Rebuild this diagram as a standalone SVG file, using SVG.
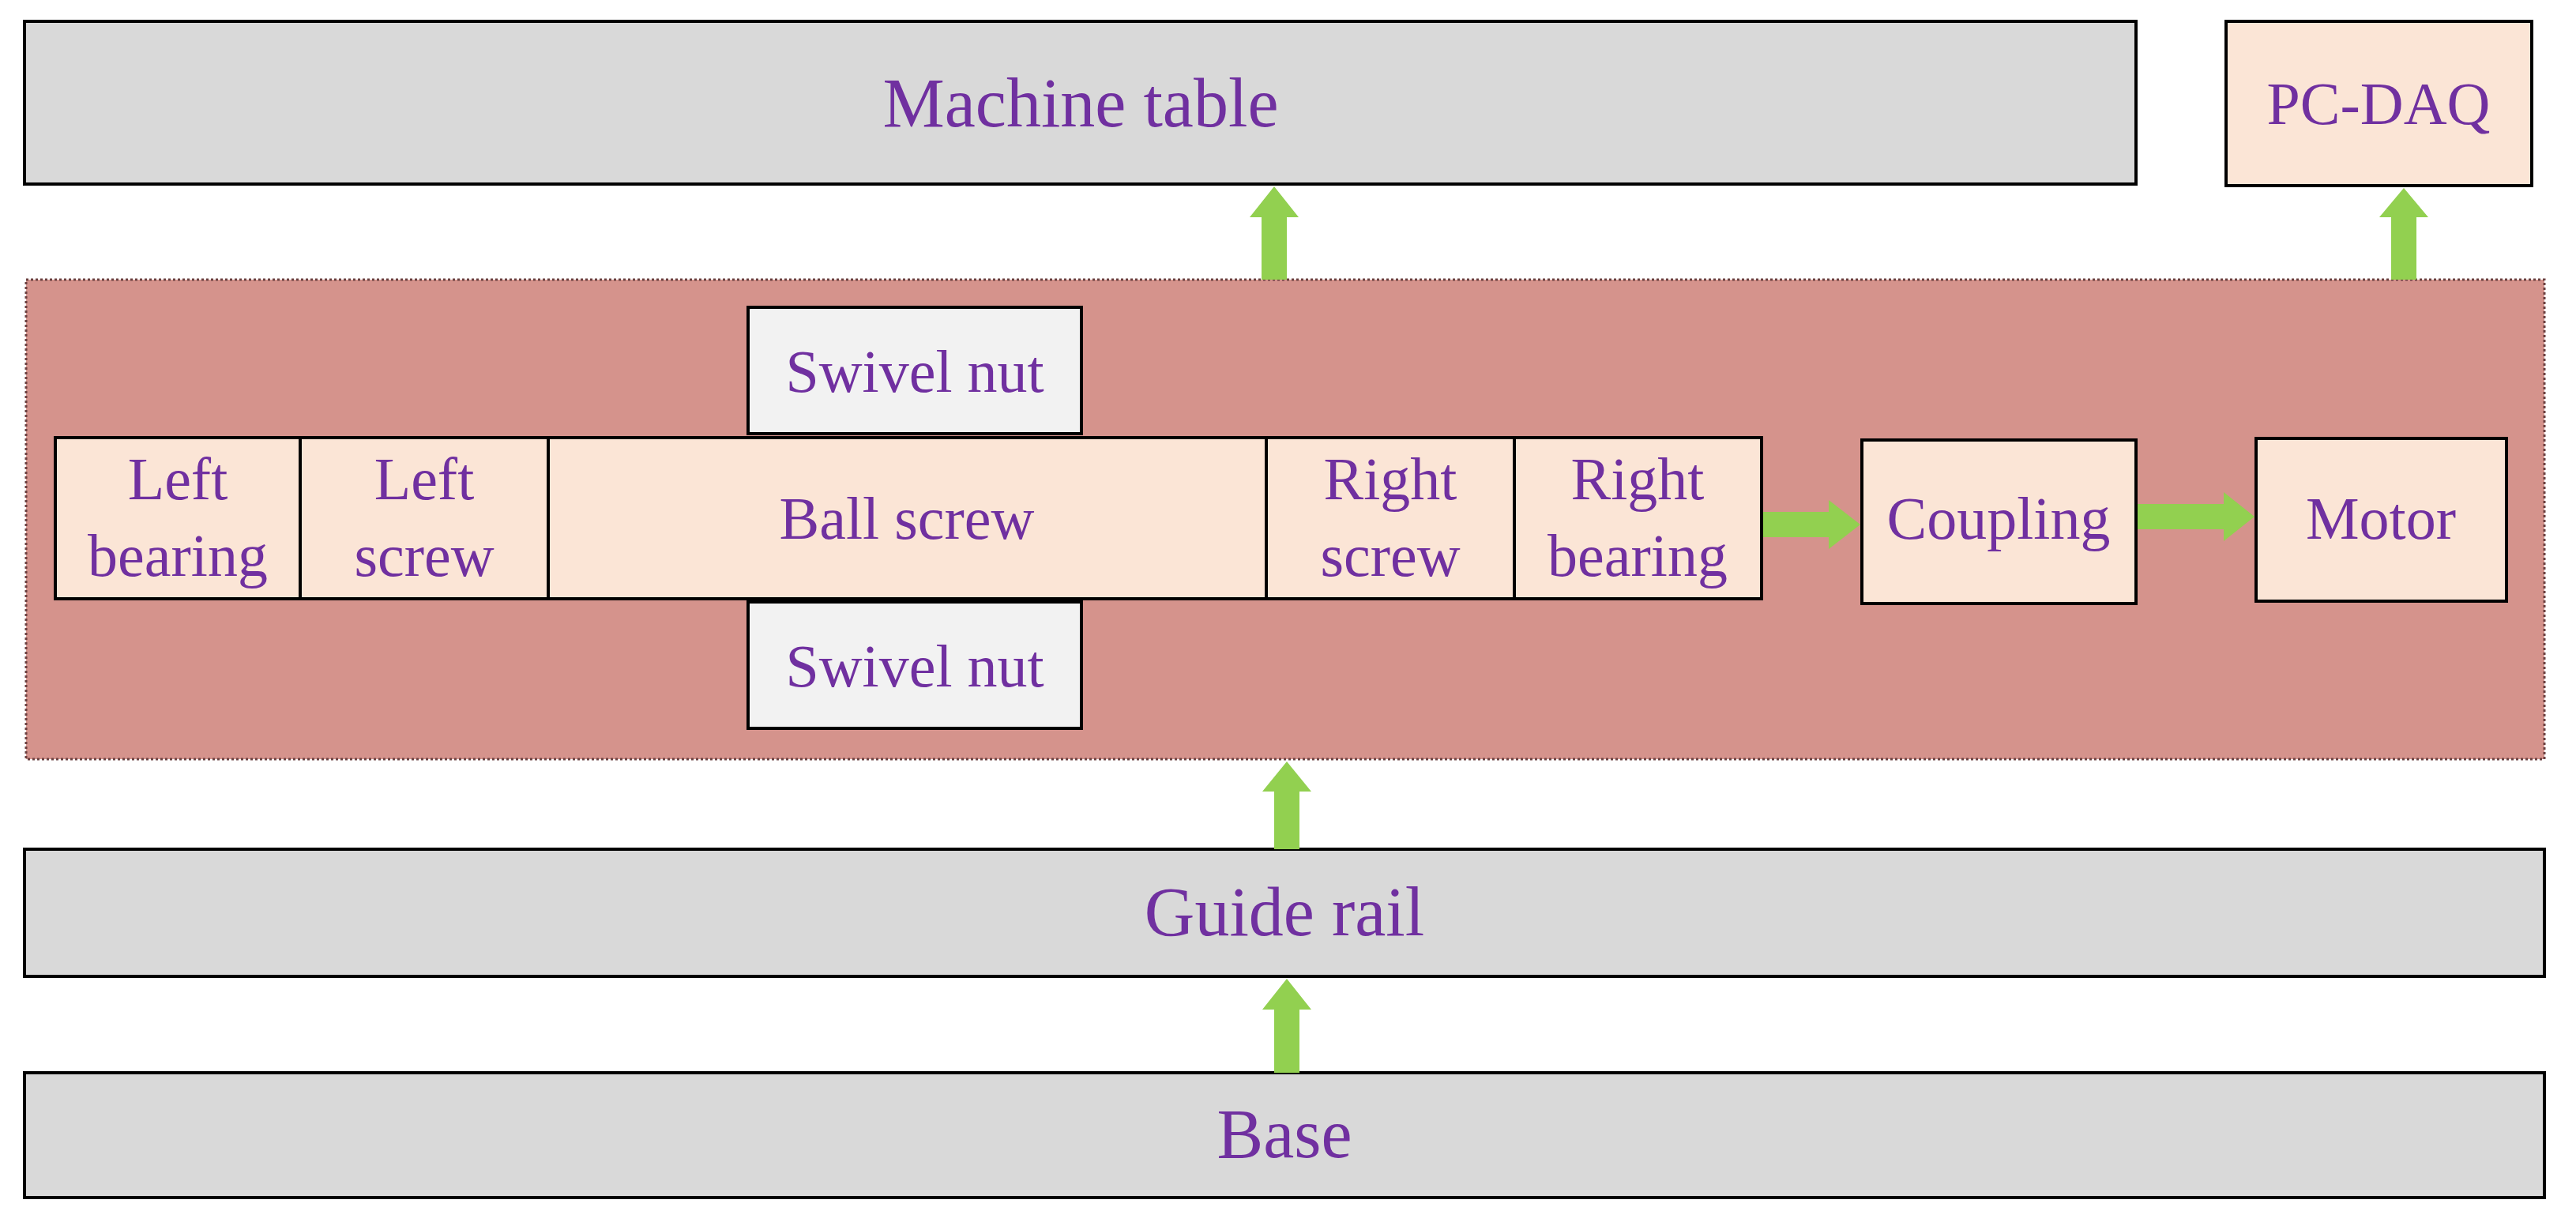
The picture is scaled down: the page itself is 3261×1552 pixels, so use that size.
<svg xmlns="http://www.w3.org/2000/svg" width="3261" height="1552" viewBox="0 0 3261 1552">
<style>
.b{stroke:#000;stroke-width:4}
.g{fill:#D9D9D9}.p{fill:#FBE5D6}.s{fill:#F2F2F2}
text{font-family:"Liberation Serif",serif;fill:#7030A0;text-anchor:middle}
.L{font-size:88px}.M{font-size:76px}
.a{fill:#92D050}
</style>
<rect width="3261" height="1552" fill="#fff"/>
<g id="group"><rect x="33" y="354" width="3188" height="607" fill="#D5938C" stroke="#6b4040" stroke-width="3" stroke-dasharray="3 3"/></g>
<g id="machine"><rect class="b g" x="31" y="27" width="2673" height="206"/><text class="L" x="1368" y="160">Machine table</text></g>
<g id="pcdaq"><rect class="b p" x="2818" y="27" width="387" height="208"/><text class="M" x="3011" y="157">PC-DAQ</text></g>
<g id="swivel1"><rect class="b s" x="947" y="389" width="422" height="160"/><text class="M" x="1158" y="496">Swivel nut</text></g>
<g id="swivel2"><rect class="b s" x="947" y="762" width="422" height="160"/><text class="M" x="1158" y="869">Swivel nut</text></g>
<g id="leftbearing"><rect class="b p" x="70" y="554" width="310" height="204"/><text class="M" x="225" y="632">Left</text><text class="M" x="225" y="729">bearing</text></g>
<g id="leftscrew"><rect class="b p" x="380" y="554" width="314" height="204"/><text class="M" x="537" y="632">Left</text><text class="M" x="537" y="729">screw</text></g>
<g id="ballscrew"><rect class="b p" x="694" y="554" width="909" height="204"/><text class="M" x="1148" y="682">Ball screw</text></g>
<g id="rightscrew"><rect class="b p" x="1603" y="554" width="314" height="204"/><text class="M" x="1760" y="632">Right</text><text class="M" x="1760" y="729">screw</text></g>
<g id="rightbearing"><rect class="b p" x="1917" y="554" width="313" height="204"/><text class="M" x="2073" y="632">Right</text><text class="M" x="2073" y="729">bearing</text></g>
<g id="coupling"><rect class="b p" x="2357" y="557" width="347" height="207"/><text class="M" x="2530" y="682">Coupling</text></g>
<g id="motor"><rect class="b p" x="2856" y="555" width="317" height="206"/><text class="M" x="3014" y="682">Motor</text></g>
<g id="guide"><rect class="b g" x="31" y="1075" width="3190" height="161"/><text class="L" x="1626" y="1184">Guide rail</text></g>
<g id="base"><rect class="b g" x="31" y="1358" width="3190" height="158"/><text class="L" x="1626" y="1465">Base</text></g>
<g id="connectors">
<polygon class="a" points="1597,354 1597,275 1582,275 1613,236 1644,275 1629,275 1629,354"/>
<polygon class="a" points="3027,354 3027,275 3012,275 3043,238 3074,275 3059,275 3059,354"/>
<polygon class="a" points="1613,1075 1613,1002 1598,1002 1629,964 1660,1002 1645,1002 1645,1075"/>
<polygon class="a" points="1613,1358 1613,1278 1598,1278 1629,1239 1660,1278 1645,1278 1645,1358"/>
<polygon class="a" points="2232,648 2315,648 2315,633 2355,664 2315,695 2315,680 2232,680"/>
<polygon class="a" points="2706,638 2815,638 2815,623 2854,654 2815,685 2815,670 2706,670"/>
</g>
</svg>
